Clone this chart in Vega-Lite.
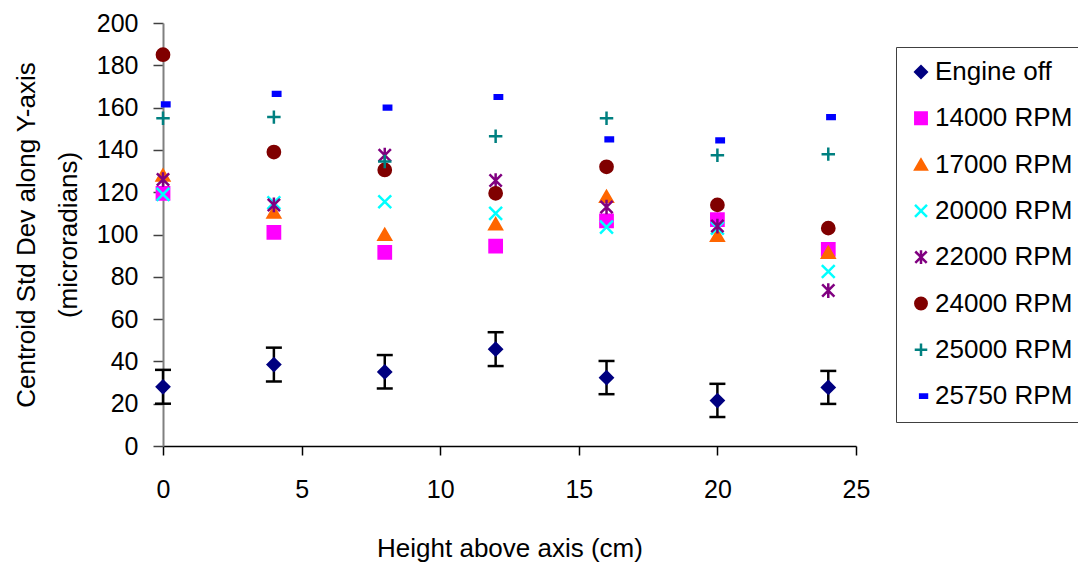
{
  "$schema": "https://vega.github.io/schema/vega-lite/v6.json",
  "width": 693,
  "height": 423,
  "autosize": {"type": "none"},
  "padding": {"left": 163, "top": 23, "right": 222, "bottom": 123},
  "background": "white",
  "config": {
    "view": {"stroke": null},
    "font": "Liberation Sans",
    "axis": {
      "grid": false,
      "labelFlush": false,
      "labelFont": "Liberation Sans",
      "labelFontSize": 25,
      "labelColor": "#000000",
      "titleFont": "Liberation Sans",
      "titleFontSize": 26,
      "titleFontWeight": "normal",
      "titleColor": "#000000"
    },
    "legend": {
      "labelFont": "Liberation Sans",
      "labelFontSize": 26,
      "labelColor": "#000000"
    }
  },
  "data": {
    "values": [
      {"series": "Engine off", "h": 0, "v": 28, "lo": 20, "hi": 36},
      {"series": "Engine off", "h": 4, "v": 38.5, "lo": 30.5, "hi": 46.5},
      {"series": "Engine off", "h": 8, "v": 35, "lo": 27.2, "hi": 43},
      {"series": "Engine off", "h": 12, "v": 45.8, "lo": 37.8, "hi": 53.8},
      {"series": "Engine off", "h": 16, "v": 32.3, "lo": 24.5, "hi": 40.2},
      {"series": "Engine off", "h": 20, "v": 21.5, "lo": 13.7, "hi": 29.4},
      {"series": "Engine off", "h": 24, "v": 27.7, "lo": 19.9, "hi": 35.5},
      {"series": "14000 RPM", "h": 0, "v": 119.5},
      {"series": "14000 RPM", "h": 4, "v": 101},
      {"series": "14000 RPM", "h": 8, "v": 91.5},
      {"series": "14000 RPM", "h": 12, "v": 94.5},
      {"series": "14000 RPM", "h": 16, "v": 106.5},
      {"series": "14000 RPM", "h": 20, "v": 107},
      {"series": "14000 RPM", "h": 24, "v": 93},
      {"series": "17000 RPM", "h": 0, "v": 128},
      {"series": "17000 RPM", "h": 4, "v": 110.5},
      {"series": "17000 RPM", "h": 8, "v": 100},
      {"series": "17000 RPM", "h": 12, "v": 105},
      {"series": "17000 RPM", "h": 16, "v": 118},
      {"series": "17000 RPM", "h": 20, "v": 99.5},
      {"series": "17000 RPM", "h": 24, "v": 91.5},
      {"series": "20000 RPM", "h": 0, "v": 119},
      {"series": "20000 RPM", "h": 4, "v": 115},
      {"series": "20000 RPM", "h": 8, "v": 115.5},
      {"series": "20000 RPM", "h": 12, "v": 110},
      {"series": "20000 RPM", "h": 16, "v": 103.5},
      {"series": "20000 RPM", "h": 20, "v": 103},
      {"series": "20000 RPM", "h": 24, "v": 82.5},
      {"series": "22000 RPM", "h": 0, "v": 126},
      {"series": "22000 RPM", "h": 4, "v": 114},
      {"series": "22000 RPM", "h": 8, "v": 137.5},
      {"series": "22000 RPM", "h": 12, "v": 125.5},
      {"series": "22000 RPM", "h": 16, "v": 113},
      {"series": "22000 RPM", "h": 20, "v": 104},
      {"series": "22000 RPM", "h": 24, "v": 73.5},
      {"series": "24000 RPM", "h": 0, "v": 185},
      {"series": "24000 RPM", "h": 4, "v": 139},
      {"series": "24000 RPM", "h": 8, "v": 130.5},
      {"series": "24000 RPM", "h": 12, "v": 119.5},
      {"series": "24000 RPM", "h": 16, "v": 132},
      {"series": "24000 RPM", "h": 20, "v": 114},
      {"series": "24000 RPM", "h": 24, "v": 103},
      {"series": "25000 RPM", "h": 0, "v": 155},
      {"series": "25000 RPM", "h": 4, "v": 155.5},
      {"series": "25000 RPM", "h": 8, "v": 134.5},
      {"series": "25000 RPM", "h": 12, "v": 146.5},
      {"series": "25000 RPM", "h": 16, "v": 155},
      {"series": "25000 RPM", "h": 20, "v": 137.5},
      {"series": "25000 RPM", "h": 24, "v": 138},
      {"series": "25750 RPM", "h": 0, "v": 161.5},
      {"series": "25750 RPM", "h": 4, "v": 166.5},
      {"series": "25750 RPM", "h": 8, "v": 160},
      {"series": "25750 RPM", "h": 12, "v": 165},
      {"series": "25750 RPM", "h": 16, "v": 145},
      {"series": "25750 RPM", "h": 20, "v": 144.5},
      {"series": "25750 RPM", "h": 24, "v": 155.5}
    ]
  },
  "layer": [
    {
      "transform": [{"filter": "datum.lo != null"}],
      "mark": {"type": "rule", "color": "#000000", "strokeWidth": 2.5},
      "encoding": {
        "x": {"field": "h", "type": "quantitative", "scale": {"domain": [0, 25], "nice": false},
          "axis": {"title": "Height above axis (cm)", "values": [0, 5, 10, 15, 20, 25], "domainColor": "#000000", "domainWidth": 1.5, "tickColor": "#000000", "tickWidth": 1.5, "tickSize": 9, "labelPadding": 22, "titlePadding": 33}},
        "y": {"field": "lo", "type": "quantitative", "scale": {"domain": [0, 200], "nice": false},
          "axis": {"title": ["Centroid Std Dev along Y-axis", "(microradians)"], "values": [0, 20, 40, 60, 80, 100, 120, 140, 160, 180, 200], "domainColor": "#808080", "domainWidth": 2, "tickColor": "#404040", "tickWidth": 1.5, "tickSize": 10, "labelPadding": 15, "titlePadding": 15, "titleLineHeight": 42}},
        "y2": {"field": "hi"}
      }
    },
    {
      "transform": [{"filter": "datum.lo != null"}],
      "mark": {"type": "tick", "orient": "horizontal", "color": "#000000", "size": 16, "thickness": 2.5, "opacity": 1},
      "encoding": {
        "x": {"field": "h", "type": "quantitative"},
        "y": {"field": "lo", "type": "quantitative"}
      }
    },
    {
      "transform": [{"filter": "datum.lo != null"}],
      "mark": {"type": "tick", "orient": "horizontal", "color": "#000000", "size": 16, "thickness": 2.5, "opacity": 1},
      "encoding": {
        "x": {"field": "h", "type": "quantitative"},
        "y": {"field": "hi", "type": "quantitative"}
      }
    },
    {
      "mark": {"type": "point", "filled": true, "size": 150, "strokeWidth": 2.5, "opacity": 1},
      "encoding": {
        "x": {"field": "h", "type": "quantitative"},
        "y": {"field": "v", "type": "quantitative"},
        "shape": {"field": "series", "type": "nominal",
          "scale": {"domain": ["Engine off", "14000 RPM", "17000 RPM", "20000 RPM", "22000 RPM", "24000 RPM", "25000 RPM", "25750 RPM"],
            "range": ["diamond", "square", "triangle-up", "M-1.05,-1.05L1.05,1.05M-1.05,1.05L1.05,-1.05", "M-1,-1L1,1M-1,1L1,-1M0,-1.2L0,1.2", "circle", "M-1.1,0L1.1,0M0,-1.1L0,1.1", "M-0.15,-0.3L1.05,-0.3L1.05,0.3L-0.15,0.3Z"]},
          "legend": {"title": null, "orient": "none", "legendX": 733, "legendY": 24, "padding": 12, "strokeColor": "#404040", "fillColor": "#ffffff", "rowPadding": 20.3, "labelOffset": 1, "symbolSize": 130, "symbolStrokeWidth": 2.5}},
        "fill": {"field": "series", "type": "nominal",
          "scale": {"domain": ["Engine off", "14000 RPM", "17000 RPM", "20000 RPM", "22000 RPM", "24000 RPM", "25000 RPM", "25750 RPM"],
            "range": ["#000080", "#FF00FF", "#FF6600", "#00FFFF", "#800080", "#800000", "#008080", "#0000FF"]},
          "legend": {"title": null, "orient": "none", "legendX": 733, "legendY": 24, "padding": 12, "strokeColor": "#404040", "fillColor": "#ffffff", "rowPadding": 20.3, "labelOffset": 1, "symbolSize": 130, "symbolStrokeWidth": 2.5}},
        "stroke": {"field": "series", "type": "nominal",
          "scale": {"domain": ["Engine off", "14000 RPM", "17000 RPM", "20000 RPM", "22000 RPM", "24000 RPM", "25000 RPM", "25750 RPM"],
            "range": ["#000080", "#FF00FF", "#FF6600", "#00FFFF", "#800080", "#800000", "#008080", "#0000FF"]},
          "legend": {"title": null, "orient": "none", "legendX": 733, "legendY": 24, "padding": 12, "strokeColor": "#404040", "fillColor": "#ffffff", "rowPadding": 20.3, "labelOffset": 1, "symbolSize": 130, "symbolStrokeWidth": 2.5}}
      }
    }
  ]
}
